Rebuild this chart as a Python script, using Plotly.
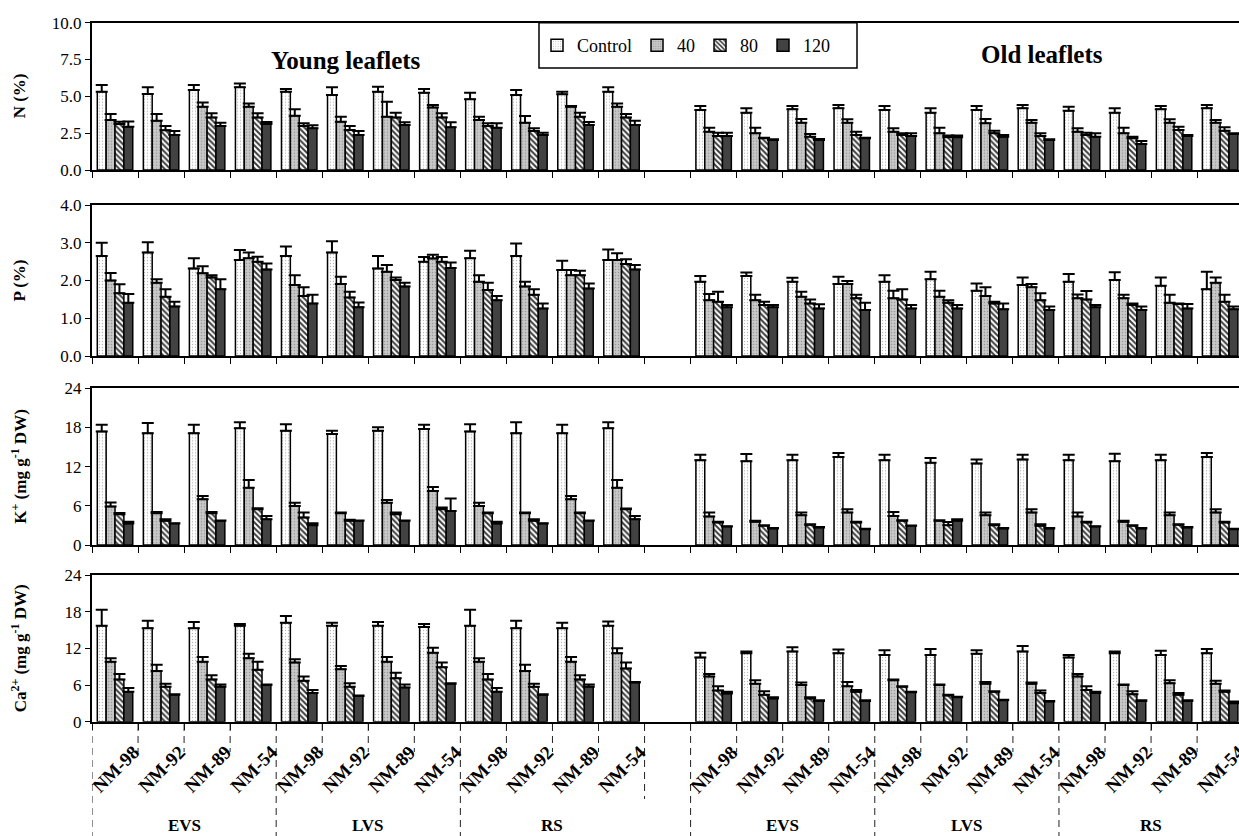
import plotly.graph_objects as go

# ---- categories -------------------------------------------------------------
LEAF_AGES = ["Young leaflets", "Old leaflets"]
STAGES = ["EVS", "LVS", "RS"]
CULTIVARS = ["NM-98", "NM-92", "NM-89", "NM-54"]
TREATMENTS = ["Control", "40", "80", "120"]

# ---- nitrogen (%) : 12 young-leaflet values followed by 12 old-leaflet values ----
N_CONTROL = [5.32, 5.16, 5.43, 5.61, 5.32, 5.09, 5.32, 5.25, 4.80, 5.09, 5.14, 5.32,
             4.07, 3.89, 4.12, 4.19, 4.07, 3.89, 4.07, 4.19, 4.03, 3.89, 4.12, 4.19]
N_CONTROL_SE = [0.45, 0.45, 0.34, 0.27, 0.18, 0.52, 0.34, 0.25, 0.45, 0.34, 0.18, 0.29,
                0.27, 0.30, 0.22, 0.22, 0.27, 0.30, 0.27, 0.22, 0.27, 0.30, 0.22, 0.22]
N_40 = [3.39, 3.35, 4.30, 4.30, 3.69, 3.28, 3.62, 4.25, 3.39, 3.21, 4.30, 4.30,
        2.60, 2.49, 3.21, 3.21, 2.60, 2.49, 3.17, 3.21, 2.60, 2.49, 3.21, 3.21]
N_40_SE = [0.41, 0.45, 0.29, 0.22, 0.43, 0.34, 1.02, 0.16, 0.23, 0.46, 0.04, 0.22,
           0.27, 0.38, 0.25, 0.23, 0.23, 0.38, 0.29, 0.18, 0.23, 0.38, 0.23, 0.18]
N_80 = [3.12, 2.70, 3.57, 3.57, 2.99, 2.71, 3.57, 3.57, 2.99, 2.65, 3.62, 3.57,
        2.31, 2.15, 2.26, 2.37, 2.37, 2.22, 2.49, 2.31, 2.37, 2.15, 2.71, 2.67]
N_80_SE = [0.16, 0.29, 0.28, 0.28, 0.18, 0.28, 0.32, 0.28, 0.18, 0.18, 0.27, 0.23,
           0.22, 0.04, 0.18, 0.23, 0.12, 0.13, 0.18, 0.18, 0.16, 0.11, 0.23, 0.23]
N_120 = [2.94, 2.37, 2.99, 3.12, 2.83, 2.37, 3.05, 2.90, 2.87, 2.37, 3.05, 3.05,
         2.31, 2.04, 2.04, 2.15, 2.31, 2.22, 2.26, 2.04, 2.26, 1.76, 2.31, 2.44]
N_120_SE = [0.36, 0.28, 0.22, 0.14, 0.20, 0.28, 0.19, 0.34, 0.30, 0.16, 0.21, 0.30,
            0.22, 0.04, 0.06, 0.04, 0.18, 0.13, 0.12, 0.04, 0.23, 0.21, 0.07, 0.05]

# ---- phosphorus (%) ---------------------------------------------------------------
P_CONTROL = [2.65, 2.74, 2.32, 2.54, 2.65, 2.74, 2.32, 2.50, 2.59, 2.65, 2.28, 2.54,
             1.97, 2.12, 1.97, 1.91, 1.97, 2.03, 1.73, 1.88, 1.97, 2.01, 1.86, 1.77]
P_CONTROL_SE = [0.35, 0.27, 0.27, 0.27, 0.25, 0.30, 0.33, 0.12, 0.20, 0.33, 0.24, 0.28,
                0.15, 0.09, 0.10, 0.19, 0.17, 0.20, 0.19, 0.20, 0.20, 0.21, 0.22, 0.46]
P_40 = [2.00, 1.94, 2.19, 2.59, 1.88, 1.91, 2.23, 2.58, 1.97, 1.84, 2.14, 2.54,
        1.48, 1.48, 1.57, 1.91, 1.53, 1.57, 1.59, 1.82, 1.53, 1.53, 1.41, 1.94]
P_40_SE = [0.20, 0.09, 0.19, 0.15, 0.26, 0.19, 0.18, 0.10, 0.17, 0.13, 0.14, 0.18,
           0.16, 0.14, 0.13, 0.08, 0.20, 0.16, 0.23, 0.09, 0.10, 0.09, 0.21, 0.14]
P_80 = [1.66, 1.57, 2.08, 2.50, 1.59, 1.55, 2.01, 2.50, 1.75, 1.62, 2.14, 2.44,
        1.44, 1.35, 1.39, 1.53, 1.50, 1.41, 1.39, 1.48, 1.50, 1.35, 1.38, 1.44]
P_80_SE = [0.24, 0.20, 0.06, 0.13, 0.23, 0.15, 0.07, 0.12, 0.19, 0.15, 0.12, 0.12,
           0.26, 0.09, 0.11, 0.09, 0.27, 0.07, 0.05, 0.18, 0.22, 0.04, 0.01, 0.18]
P_120 = [1.41, 1.31, 1.77, 2.29, 1.39, 1.29, 1.84, 2.33, 1.48, 1.26, 1.79, 2.29,
         1.29, 1.29, 1.26, 1.22, 1.26, 1.26, 1.24, 1.22, 1.29, 1.22, 1.26, 1.24]
P_120_SE = [0.23, 0.13, 0.26, 0.16, 0.23, 0.13, 0.10, 0.15, 0.11, 0.13, 0.13, 0.12,
            0.06, 0.06, 0.11, 0.19, 0.09, 0.09, 0.15, 0.09, 0.06, 0.09, 0.12, 0.07]

# ---- potassium (mg g-1 DW) -----------------------------------------------------------
K_CONTROL = [17.4, 17.1, 17.1, 17.9, 17.5, 17.0, 17.5, 17.75, 17.4, 17.1, 17.1, 17.9,
             12.98, 12.83, 12.98, 13.49, 12.98, 12.58, 12.47, 13.08, 12.98, 12.83, 12.98, 13.49]
K_CONTROL_SE = [1.0, 1.6, 1.3, 0.9, 1.0, 0.5, 0.55, 0.65, 1.1, 1.7, 1.3, 0.9,
                0.86, 1.11, 0.86, 0.61, 0.86, 0.76, 0.61, 0.76, 0.86, 1.16, 0.86, 0.61]
K_40 = [5.9, 4.87, 7.0, 8.77, 5.98, 4.87, 6.49, 8.27, 5.98, 4.87, 7.0, 8.77,
        4.36, 3.55, 4.56, 4.97, 4.46, 3.7, 4.56, 4.97, 4.36, 3.55, 4.56, 4.97]
K_40_SE = [0.6, 0.2, 0.5, 1.17, 0.51, 0.1, 0.41, 0.6, 0.51, 0.1, 0.5, 1.17,
           0.61, 0.15, 0.41, 0.51, 0.61, 0.1, 0.41, 0.51, 0.61, 0.15, 0.41, 0.51]
K_80 = [4.7, 3.7, 4.87, 5.48, 4.2, 3.7, 4.72, 5.48, 4.87, 3.7, 4.87, 5.48,
        3.45, 2.94, 3.09, 3.45, 3.7, 3.04, 3.04, 2.94, 3.45, 2.94, 3.09, 3.45]
K_80_SE = [0.2, 0.25, 0.2, 0.15, 0.77, 0.15, 0.25, 0.25, 0.1, 0.25, 0.1, 0.1,
           0.1, 0.1, 0.1, 0.1, 0.1, 0.5, 0.15, 0.25, 0.1, 0.1, 0.1, 0.1]
K_120 = [3.3, 3.3, 3.7, 3.95, 3.04, 3.7, 3.7, 5.22, 3.3, 3.3, 3.7, 3.95,
         2.84, 2.54, 2.69, 2.43, 2.94, 3.7, 2.54, 2.54, 2.84, 2.54, 2.69, 2.43]
K_120_SE = [0.25, 0.05, 0.05, 0.5, 0.3, 0.05, 0.05, 1.9, 0.25, 0.05, 0.05, 0.5,
            0.05, 0.05, 0.05, 0.05, 0.05, 0.25, 0.05, 0.05, 0.05, 0.05, 0.05, 0.05]

# ---- calcium (mg g-1 DW) -------------------------------------------------------------
CA_CONTROL = [15.7, 15.3, 15.3, 15.7, 16.2, 15.7, 15.7, 15.5, 15.7, 15.3, 15.3, 15.7,
              10.5, 11.2, 11.5, 11.2, 10.9, 10.9, 11.1, 11.5, 10.5, 11.2, 10.9, 11.2]
CA_CONTROL_SE = [2.6, 1.2, 1.0, 0.3, 1.1, 0.5, 0.6, 0.5, 2.6, 1.2, 0.9, 0.7,
                 0.8, 0.3, 0.7, 0.6, 0.8, 1.0, 0.6, 0.9, 0.4, 0.3, 0.7, 0.7]
CA_40 = [9.8, 8.3, 9.8, 10.4, 9.7, 8.6, 9.8, 11.3, 9.8, 8.3, 9.8, 11.2,
         7.4, 6.2, 6.0, 5.8, 6.8, 6.0, 6.2, 6.2, 7.4, 6.0, 6.3, 6.2]
CA_40_SE = [0.6, 1.0, 0.8, 0.7, 0.5, 0.5, 0.8, 0.8, 0.6, 1.0, 0.8, 0.8,
            0.4, 0.6, 0.4, 0.7, 0.1, 0.1, 0.3, 0.2, 0.4, 0.1, 0.5, 0.5]
CA_80 = [6.9, 5.7, 6.9, 8.5, 6.7, 5.7, 7.1, 8.9, 6.9, 5.7, 6.9, 8.7,
         5.1, 4.4, 3.8, 4.9, 5.7, 4.3, 4.9, 4.7, 5.2, 4.5, 4.4, 4.9]
CA_80_SE = [0.9, 0.5, 0.7, 1.3, 0.7, 0.6, 0.9, 0.8, 0.9, 0.5, 0.7, 1.0,
            0.7, 0.6, 0.2, 0.3, 0.1, 0.1, 0.1, 0.4, 0.6, 0.5, 0.3, 0.2]
CA_120 = [4.9, 4.4, 5.7, 6.0, 4.7, 4.2, 5.6, 6.2, 4.9, 4.4, 5.7, 6.4,
          4.6, 3.8, 3.4, 3.4, 4.8, 4.0, 3.5, 3.3, 4.7, 3.4, 3.4, 3.0]
CA_120_SE = [0.6, 0.1, 0.4, 0.1, 0.5, 0.1, 0.5, 0.1, 0.6, 0.1, 0.4, 0.1,
             0.3, 0.2, 0.1, 0.1, 0.1, 0.1, 0.1, 0.1, 0.2, 0.1, 0.1, 0.3]

# ---- page geometry -------------------------------------------------------------------
W, H = 1239, 836
ML = 92
SERIF = "Liberation Serif"


def fx(px):
    """Horizontal pixel -> paper fraction."""
    return (px - ML) / (W - ML)


def fy(py):
    """Vertical pixel (from top) -> paper fraction."""
    return 1 - py / H


# category positions: 12 young, one empty slot, 12 old
per_age = len(STAGES) * len(CULTIVARS)
X = []
for a in range(len(LEAF_AGES)):
    X += [a * (per_age + 1) + i for i in range(per_age)]
X_LABELS = [cv for _ in LEAF_AGES for _ in STAGES for cv in CULTIVARS]

PANELS = [
    dict(title="N (%)", rng=[0, 10], ticks=[0, 2.5, 5, 7.5, 10], fmt=".1f",
         top=22.7, bottom=170,
         means=[N_CONTROL, N_40, N_80, N_120], ses=[N_CONTROL_SE, N_40_SE, N_80_SE, N_120_SE]),
    dict(title="P (%)", rng=[0, 4], ticks=[0, 1, 2, 3, 4], fmt=".1f",
         top=205, bottom=356,
         means=[P_CONTROL, P_40, P_80, P_120], ses=[P_CONTROL_SE, P_40_SE, P_80_SE, P_120_SE]),
    dict(title="K<sup>+</sup> (mg g<sup>-1</sup> DW)", rng=[0, 24], ticks=[0, 6, 12, 18, 24], fmt="d",
         top=388.3, bottom=545,
         means=[K_CONTROL, K_40, K_80, K_120], ses=[K_CONTROL_SE, K_40_SE, K_80_SE, K_120_SE]),
    dict(title="Ca<sup>2+</sup> (mg g<sup>-1</sup> DW)", rng=[0, 24], ticks=[0, 6, 12, 18, 24], fmt="d",
         top=575, bottom=721.7,
         means=[CA_CONTROL, CA_40, CA_80, CA_120], ses=[CA_CONTROL_SE, CA_40_SE, CA_80_SE, CA_120_SE]),
]

BAR_STYLES = [
    dict(color="#ffffff", pattern=dict(shape=".", bgcolor="#ffffff", fgcolor="#b8b8b8", size=3, solidity=0.15)),
    dict(color="#c4c4c4", pattern=dict(shape=".", bgcolor="#c8c8c8", fgcolor="#989898", size=3, solidity=0.2)),
    dict(color="#8a8a8a", pattern=dict(shape="\\", bgcolor="#ffffff", fgcolor="#3c3c3c", size=4, solidity=0.5)),
    dict(color="#424242"),
]

fig = go.Figure()
layout = dict(
    template="none",
    width=W, height=H, autosize=False,
    margin=dict(l=ML, r=0, t=0, b=0, pad=0, autoexpand=False),
    paper_bgcolor="white", plot_bgcolor="white",
    barmode="group", bargap=0.23, bargroupgap=0,
    font=dict(family=SERIF, size=17, color="black"),
    showlegend=True,
)

X_RANGE = [-0.5, 24.41]

for k, p in enumerate(PANELS, start=1):
    s = "" if k == 1 else str(k)
    for t, name in enumerate(TREATMENTS):
        st = BAR_STYLES[t]
        marker = dict(color=st["color"], line=dict(color="black", width=1.5))
        if "pattern" in st:
            marker["pattern"] = st["pattern"]
        fig.add_trace(go.Bar(
            x=X, y=p["means"][t], name=name,
            xaxis="x" + s, yaxis="y" + s,
            marker=marker,
            legendgroup=name, showlegend=(k == 1),
            error_y=dict(type="data", symmetric=False, array=p["ses"][t],
                         arrayminus=[0] * len(X), color="black", thickness=2, width=6),
        ))
    layout["xaxis" + s] = dict(
        domain=[0, 1], range=X_RANGE, anchor="y" + s, automargin=False,
        tickmode="linear", tick0=-0.5, dtick=1,
        ticks="outside", ticklen=6, tickwidth=1, tickcolor="black",
        showticklabels=False, showgrid=False, zeroline=False,
        showline=True, linecolor="black", linewidth=2, mirror=True,
    )
    layout["yaxis" + s] = dict(
        domain=[fy(p["bottom"]), fy(p["top"])], range=p["rng"], anchor="x" + s,
        automargin=False,
        tickmode="array", tickvals=p["ticks"], tickformat=p["fmt"],
        ticks="outside", ticklen=5, tickwidth=1, tickcolor="black",
        tickfont=dict(family=SERIF, size=17, color="black"),
        showgrid=False, zeroline=False,
        showline=True, linecolor="black", linewidth=2,
    )

annotations = []
shapes = []

# axis titles, drawn at a fixed distance from the page edge
for p in PANELS:
    annotations.append(dict(
        text="<b>%s</b>" % p["title"], xref="paper", yref="paper",
        x=fx(19), y=fy((p["top"] + p["bottom"]) / 2), textangle=-90,
        xanchor="center", yanchor="middle",
        showarrow=False, font=dict(family=SERIF, size=17, color="black"),
    ))

# leaf-age captions
for name, cx, cy in [(LEAF_AGES[0], 346, 61), (LEAF_AGES[1], 1042, 55)]:
    annotations.append(dict(
        text="<b>%s</b>" % name, xref="paper", yref="paper", x=fx(cx), y=fy(cy),
        xanchor="center", yanchor="middle",
        showarrow=False, font=dict(family=SERIF, size=25, color="black"),
    ))

# cultivar labels under the bottom panel, slanted upwards to the right
for xv, lab in zip(X, X_LABELS):
    annotations.append(dict(
        text="<b>%s</b>" % lab, xref="x4", yref="paper", x=xv, y=fy(769),
        xanchor="center", yanchor="middle",
        textangle=-45, showarrow=False, font=dict(family=SERIF, size=19, color="black"),
    ))

# growth-stage labels and dashed separators
n_cv = len(CULTIVARS)
DASH = dict(color="#222222", width=1, dash="7px,5px")
for a in range(len(LEAF_AGES)):
    off = a * (per_age + 1)
    for j, stage in enumerate(STAGES):
        start = off + j * n_cv
        annotations.append(dict(
            text="<b>%s</b>" % stage, xref="x4", yref="paper",
            x=start + (n_cv - 1) / 2, y=fy(825), xanchor="center", yanchor="middle",
            showarrow=False, font=dict(family=SERIF, size=17, color="black"),
        ))
        for c in range(n_cv):
            xb = start + c - 0.5
            end = H if c == 0 else 752
            shapes.append(dict(type="line", xref="x4", yref="paper",
                               x0=xb, x1=xb, y0=fy(724), y1=fy(end), line=DASH))
    xb = off + per_age - 0.5
    shapes.append(dict(type="line", xref="x4", yref="paper",
                       x0=xb, x1=xb, y0=fy(724), y1=fy(799), line=DASH))

# legend frame
shapes.append(dict(type="rect", xref="paper", yref="paper",
                   x0=fx(539), x1=fx(857), y0=fy(68), y1=fy(22.7),
                   line=dict(color="black", width=1.5), fillcolor="white", layer="below"))

layout["annotations"] = annotations
layout["shapes"] = shapes
layout["legend"] = dict(
    orientation="h", x=fx(537), y=fy(45.5), xanchor="left", yanchor="middle",
    bgcolor="rgba(0,0,0,0)", borderwidth=0,
    font=dict(family=SERIF, size=18, color="black"),
    traceorder="normal",
)

fig.update_layout(**layout)
fig.write_html("out.html")
